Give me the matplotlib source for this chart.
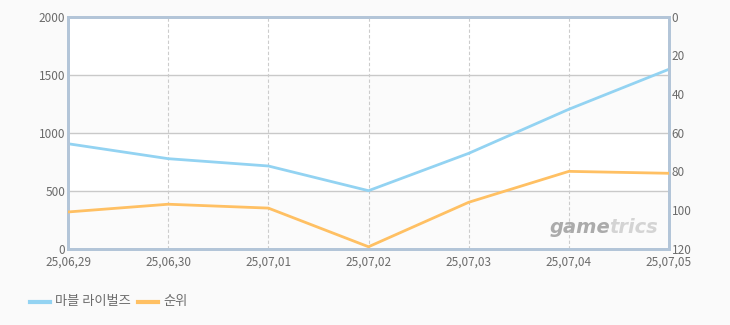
import numpy as np
import matplotlib.pyplot as plt
from matplotlib.patches import Rectangle

plt.rcParams['font.family'] = ['Noto Sans CJK KR', 'DejaVu Sans']

dates = ['25,06,29', '25,06,30', '25,07,01', '25,07,02', '25,07,03', '25,07,04', '25,07,05']
players = [905, 776, 713, 500, 822, 1202, 1547]
rank = [101, 97, 99, 119, 96, 80, 81]
series_names = ['마블 라이벌즈', '순위']

blue = '#93d3f2'
orange = '#ffc063'
frame = '#b3c5d8'
tickcol = '#6b6b6b'

fig = plt.figure(figsize=(7.3, 3.25), dpi=100)
fig.patch.set_facecolor('#fafafa')
ax = fig.add_axes([68 / 730, 1 - 248.7 / 325, 601 / 730, 232 / 325])
ax.set_facecolor('white')

x = np.arange(len(dates))
ax.set_xlim(0, len(dates) - 1)
ax.set_ylim(0, 2000)

# alternating bands
for lo in [0, 1000]:
    ax.add_patch(Rectangle((0, lo), len(dates) - 1, 500, facecolor='#fbfbfb',
                           edgecolor='none', zorder=0))

for yv in [500, 1000, 1500]:
    ax.axhline(yv, color='#c9c9c9', lw=1, zorder=1)
for xv in x[1:-1]:
    ax.axvline(xv, color='#cccccc', lw=0.8, ls=(0, (3, 2)), zorder=1)

ax.plot(x, players, color=blue, lw=2, zorder=3, solid_joinstyle='round')

axR = ax.twinx()
axR.set_ylim(120, 0)
axR.plot(x, rank, color=orange, lw=2, zorder=3, solid_joinstyle='round')

ax.set_xticks(x)
ax.set_xticklabels(dates)
ax.set_yticks([0, 500, 1000, 1500, 2000])
axR.set_yticks([0, 20, 40, 60, 80, 100, 120])

for a in [ax, axR]:
    a.tick_params(length=0, labelsize=8.5, colors=tickcol, pad=2)
    for s in a.spines.values():
        s.set_color(frame)
        s.set_linewidth(2)
ax.tick_params(axis='x', pad=5)

# watermark
ax.text(0.802, 0.05, 'game', transform=ax.transAxes, fontsize=14, style='italic',
        weight='bold', color='#ababab', family='DejaVu Sans', ha='left', va='bottom')
ax.text(0.900, 0.05, 'trics', transform=ax.transAxes, fontsize=14, style='italic',
        weight='bold', color='#d4d4d4', family='DejaVu Sans', ha='left', va='bottom')

# legend
fig.lines.append(plt.Line2D([30 / 730, 50 / 730], [1 - 302 / 325] * 2, color=blue, lw=3,
                            transform=fig.transFigure))
fig.text(55 / 730, 1 - 302 / 325, series_names[0], fontsize=9.5, color=tickcol, va='center')
fig.lines.append(plt.Line2D([138 / 730, 158 / 730], [1 - 302 / 325] * 2, color=orange, lw=3,
                            transform=fig.transFigure))
fig.text(163 / 730, 1 - 302 / 325, series_names[1], fontsize=9.5, color=tickcol, va='center')

fig.savefig('out.png', dpi=100, facecolor=fig.get_facecolor())
